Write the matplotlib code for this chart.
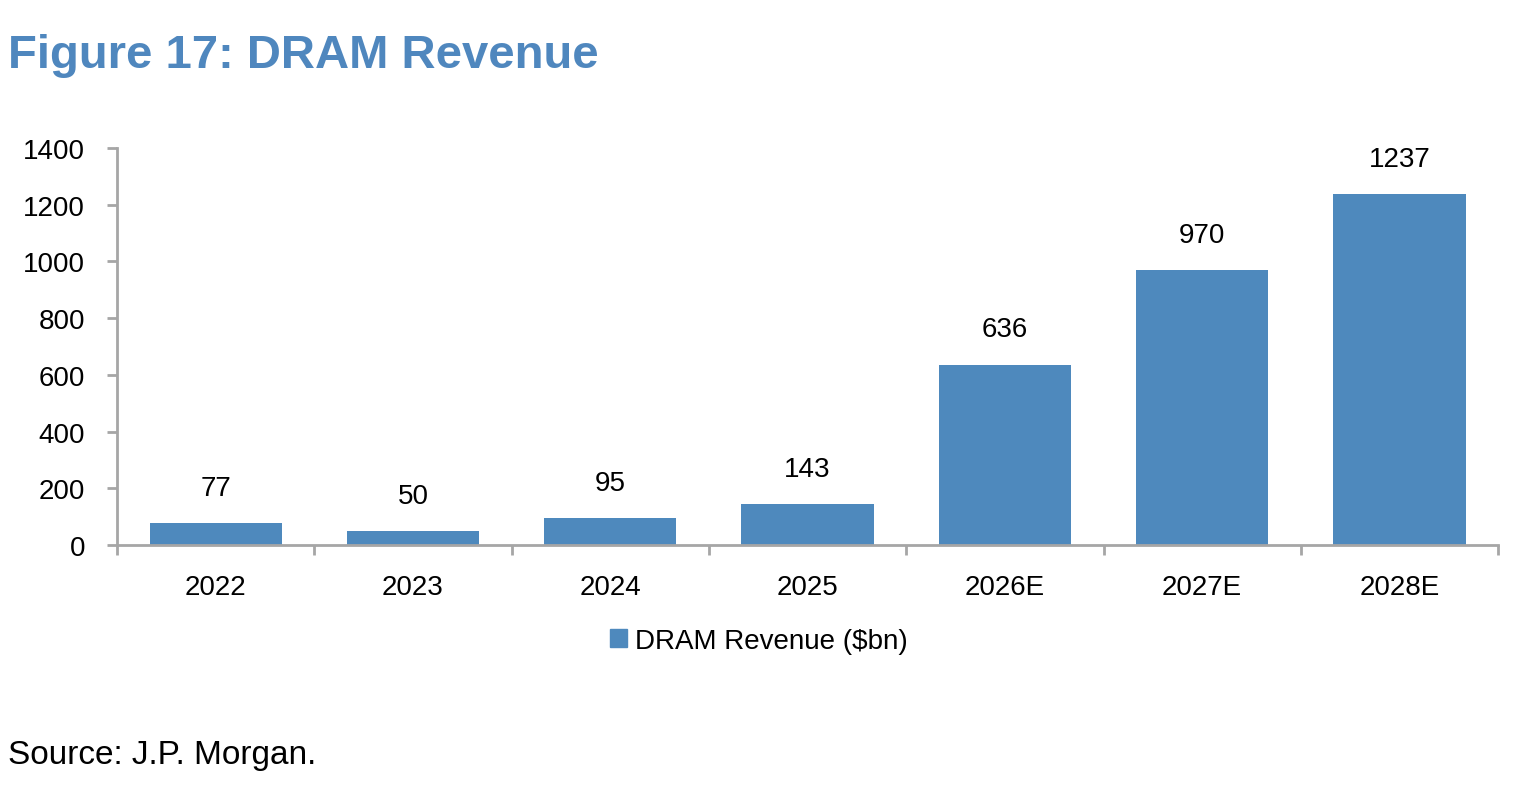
import matplotlib
matplotlib.use("Agg")
import matplotlib.pyplot as plt
from matplotlib.patches import Patch
import numpy as np

# chart data
years = ["2022", "2023", "2024", "2025", "2026E", "2027E", "2028E"]
revenue = [77, 50, 95, 143, 636, 970, 1237]
y_ticks = [0, 200, 400, 600, 800, 1000, 1200, 1400]

BAR_COLOUR = "#4e89bd"
TITLE_COLOUR = "#4f87be"
AXIS_GREY = "#a6a6a6"

plt.rcParams["font.family"] = ["Liberation Sans", "DejaVu Sans"]

fig = plt.figure(figsize=(15.24, 8.03), dpi=100)
ax = fig.add_axes([0.0768, 0.320, 0.9062, 0.4944])

x = np.arange(len(years))
ax.bar(x, revenue, width=0.67, color=BAR_COLOUR, zorder=2)

for xi, v in zip(x, revenue):
    ax.annotate(str(v), (xi, v), xytext=(0, 16), textcoords="offset points",
                ha="center", va="bottom", fontsize=20, color="black")

ax.set_xlim(-0.5, len(years) - 0.5)
ax.set_ylim(0, 1400)
ax.set_yticks(y_ticks)
ax.set_yticklabels([str(t) for t in y_ticks], fontsize=20)

# category labels in the middle, tick marks on the boundaries
ax.set_xticks(x)
ax.set_xticklabels(years, fontsize=20)
ax.set_xticks(np.arange(len(years) + 1) - 0.5, minor=True)
ax.tick_params(axis="x", which="major", length=0, pad=21)
ax.tick_params(axis="x", which="minor", length=7, width=2, color=AXIS_GREY, direction="out")
ax.tick_params(axis="y", length=7, width=2, color=AXIS_GREY, pad=16)

for side in ["top", "right"]:
    ax.spines[side].set_visible(False)
for side in ["left", "bottom"]:
    ax.spines[side].set_color(AXIS_GREY)
    ax.spines[side].set_linewidth(2)

fig.legend(handles=[Patch(color=BAR_COLOUR, label="DRAM Revenue ($bn)")],
           loc="center", bbox_to_anchor=(0.498, 0.201), frameon=False,
           fontsize=20, handlelength=0.6, handleheight=0.6, handletextpad=0.3)

fig.text(0.005, 0.93, "Figure 17: DRAM Revenue", fontsize=34, fontweight="bold",
         color=TITLE_COLOUR, ha="left", va="center")
fig.text(0.005, 0.059, "Source: J.P. Morgan.", fontsize=24, color="black",
         ha="left", va="center")

fig.savefig("out.png", dpi=100)
